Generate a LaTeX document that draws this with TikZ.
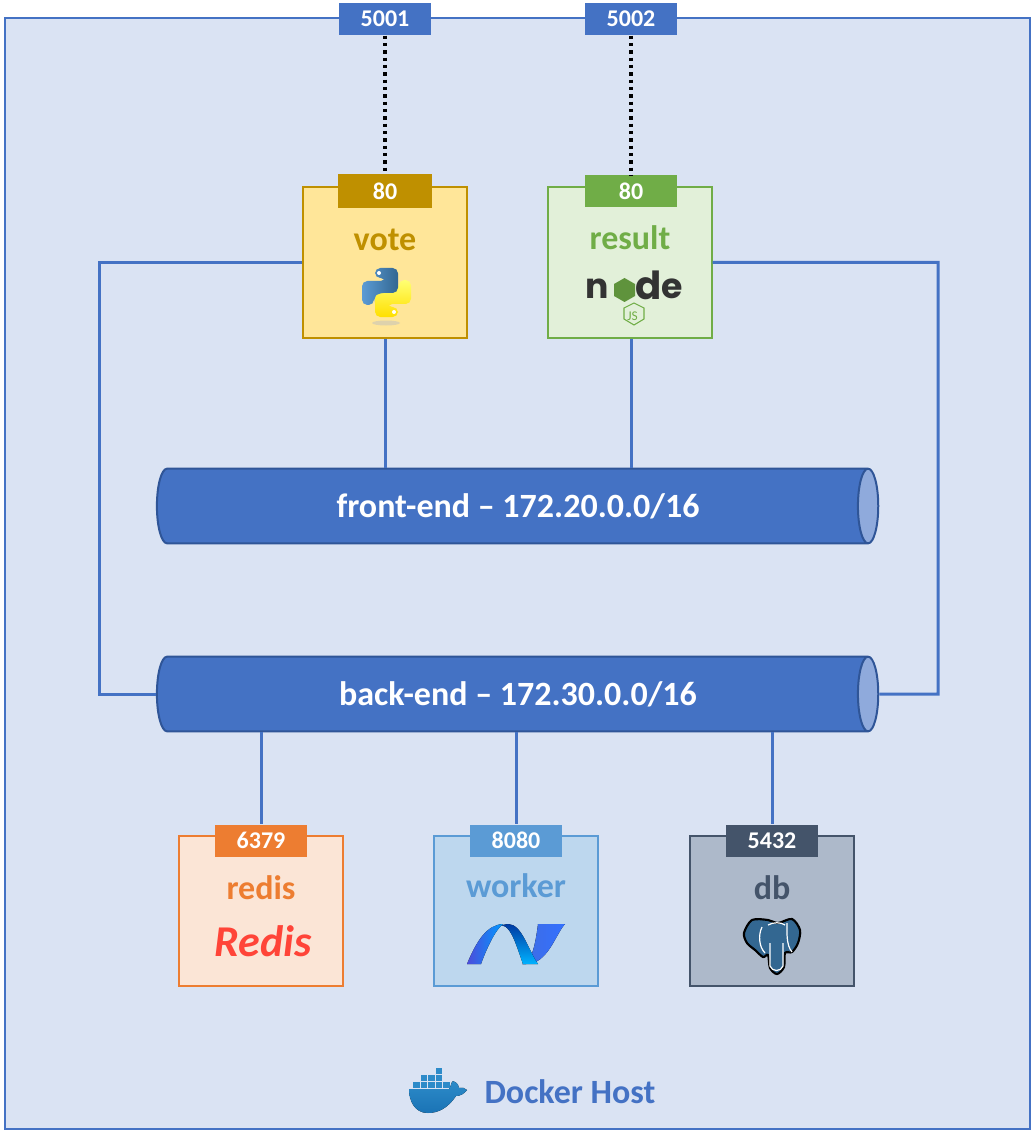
\documentclass[tikz,border=0pt]{standalone}
\usepackage{fontspec}
\setmainfont{Carlito}
\newfontfamily\logofont{Poppins}
\usetikzlibrary{shapes.geometric}
\definecolor{hostfill}{HTML}{DAE3F3}
\definecolor{hostblue}{HTML}{4472C4}
\definecolor{netline}{HTML}{2F5597}
\definecolor{netcap}{HTML}{8FAADC}
\definecolor{votefill}{HTML}{FFE699}
\definecolor{votegold}{HTML}{BF9000}
\definecolor{resultfill}{HTML}{E2F0D9}
\definecolor{resultgreen}{HTML}{70AD47}
\definecolor{redisfill}{HTML}{FBE5D6}
\definecolor{redisorange}{HTML}{ED7D31}
\definecolor{workerfill}{HTML}{BDD7EE}
\definecolor{workerblue}{HTML}{5B9BD5}
\definecolor{dbfill}{HTML}{ADB9CA}
\definecolor{dbslate}{HTML}{44546A}
\definecolor{logodark}{HTML}{333333}
\definecolor{redisred}{HTML}{FF4438}
\definecolor{pgblue}{HTML}{336791}
\definecolor{dockerblue}{HTML}{2D8BC9}
\definecolor{dockerdeep}{HTML}{1A73B5}
\tikzset{
  servicebox/.style 2 args={draw=#2,fill=#1,line width=1.5pt,minimum width=122.5pt,minimum height=112.5pt,inner sep=0pt},
  portbox/.style={fill=#1,text=white,font=\bfseries\fontsize{18}{18}\selectfont,minimum width=69pt,minimum height=24pt,inner sep=0pt},
  publishbox/.style={portbox=hostblue,minimum height=24.5pt},
  servicename/.style={text=#1,font=\bfseries\fontsize{25.5}{25.5}\selectfont,inner sep=0pt},
  logoletter/.style={text=logodark,font=\logofont\bfseries\fontsize{26}{26}\selectfont,inner sep=0pt},
  netbar/.style={cylinder,draw=netline,line width=1.5pt,cylinder uses custom fill,cylinder body fill=hostblue,cylinder end fill=netcap,shape aspect=0.8,minimum width=56pt,minimum height=541pt,inner sep=0pt,text=white,font=\bfseries\fontsize{25.5}{25.5}\selectfont},
  netlink/.style={draw=hostblue,line width=2.25pt},
  publishlink/.style={draw=black,line width=2.4pt,dash pattern=on 2.6pt off 2.9pt}
}
\begin{document}
\begin{tikzpicture}[x=0.75pt,y=0.75pt,yscale=-1,xscale=1]
    \useasboundingbox (0,0) rectangle (1034,1130);
    % host
    \draw [draw=hostblue,fill=hostfill,line width=1.5pt] (5,18) rectangle (1030,1129);
    % services
    \node [servicebox={votefill}{votegold}] (vote) at (385,262.5) {};
    \node [servicebox={resultfill}{resultgreen}] (result) at (630,262.5) {};
    \node [servicebox={redisfill}{redisorange}] (redis) at (261,910.5) {};
    \node [servicebox={workerfill}{workerblue}] (worker) at (516,910.5) {};
    \node [servicebox={dbfill}{dbslate}] (db) at (772,910.5) {};
    % networks
    \node [netbar] (frontend) at (512,506) {\hspace*{9pt}front-end -- 172.20.0.0/16};
    \node [netbar] (backend) at (512,694) {\hspace*{9pt}back-end -- 172.30.0.0/16};
    % ports
    \node [publishbox] (pubvote) at (385,19) {5001};
    \node [publishbox] (pubresult) at (631,19) {5002};
    \node [portbox=votegold,minimum width=70.5pt,minimum height=25.5pt] (portvote) at (385,191.5) {80};
    \node [portbox=resultgreen] (portresult) at (631,191.5) {80};
    \node [portbox=redisorange] (portredis) at (261,840.5) {6379};
    \node [portbox=workerblue] (portworker) at (516,840.5) {8080};
    \node [portbox=dbslate] (portdb) at (772,840.5) {5432};
    % names
    \node [servicename=votegold] (votename) at (385,240) {vote};
    \node [servicename=resultgreen] (resultname) at (630,238) {result};
    \node [servicename=redisorange] (redisname) at (261,888) {redis};
    \node [servicename=workerblue] (workername) at (516,886) {worker};
    \node [servicename=dbslate] (dbname) at (772,888) {db};
    \node [text=hostblue,font=\bfseries\fontsize{25.5}{25.5}\selectfont,inner sep=0pt] (hostname) at (570,1092) {Docker Host};
    % connectors
    \coordinate (backleft) at (99,694);
    \coordinate (backright) at (938,694);
    \draw [publishlink] (pubvote.south) -- (portvote.north);
    \draw [publishlink] (pubresult.south) -- (portresult.north);
    \draw [netlink] (vote.south) -- (vote.south |- frontend.north);
    \draw [netlink] (portresult |- result.south) -- (portresult |- frontend.north);
    \draw [netlink] (vote.west) -| (backleft) -- (backend.west);
    \draw [netlink] (result.east) -| (backright) -- (backend.east);
    \draw [netlink] (redis.north |- backend.south) -- (portredis.north);
    \draw [netlink] (worker.north |- backend.south) -- (portworker.north);
    \draw [netlink] (db.north |- backend.south) -- (portdb.north);
    % python
    \fill [black!25,opacity=0.5] (386,323) ellipse (14 and 2.5);
    \draw [rounded corners=4,draw=none,top color=yellow!55!white,bottom color=yellow!75!orange] (398,317) -- (375,317) -- (375,292) -- (395,292) -- (399,288) -- (399,280) -- (411,280) -- (411,304) -- (387,304) -- (387,307) -- (398,307) -- cycle;
    \draw [rounded corners=4,draw=none,left color=workerblue,right color=pgblue] (375,268) -- (398,268) -- (398,293) -- (378,293) -- (374,297) -- (374,305) -- (362,305) -- (362,281) -- (386,281) -- (386,278) -- (375,278) -- cycle;
    \fill [white] (379,273) circle (2) (394,312) circle (2);
    % node
    \node [logoletter] (noden) at (597,288.5) {n};
    \node [logoletter,font=\logofont\bfseries\fontsize{29}{29}\selectfont] (noded) at (648.5,285.5) {d};
    \node [logoletter] (nodee) at (672.5,289) {e};
    \fill [resultgreen!85!black] (624.5,278) -- (635,284) -- (635,296) -- (624.5,302) -- (614,296) -- (614,284) -- cycle;
    \draw [resultgreen,line width=0.8pt] (634,303) -- (644,308) -- (644,319) -- (634,325) -- (624,319) -- (624,308) -- cycle;
    \node [text=resultgreen,font=\fontsize{10}{10}\selectfont,inner sep=0pt] (nodejs) at (632.5,316) {JS};
    % redis
    \node [text=redisred,font=\bfseries\itshape\fontsize{33}{33}\selectfont,inner sep=0pt] (redislogo) at (263,941) {Redis};
    % dotnet
    \fill [left color=workerblue!70!blue,right color=cyan!30!blue!80] (522,964) .. controls (532,965) and (536,940) .. (538,924) -- (565,924) .. controls (555,935) and (548,964) .. (526,964) -- cycle;
    \fill [top color=blue!70!cyan!60!black,bottom color=cyan!70!blue] (497,926) .. controls (510,920) and (516,945) .. (523,964) -- (538,964) .. controls (528,950) and (522,924) .. (508,924) -- cycle;
    \fill [left color=blue!80!black!70,right color=cyan!60!blue] (467,964) .. controls (477,940) and (487,925) .. (503,924) .. controls (495,930) and (486,950) .. (481,964) -- cycle;
    % postgres
    \draw [black,fill=pgblue,line width=1.6pt] plot [smooth cycle] coordinates {(744,933) (752,920) (768,920) (778,923) (792,919) (800,930) (798,943) (792,952) (785,953) (784,967) (777,974) (770,968) (768,955) (763,957) (755,950) (747,943)};
    \draw [white,line width=0.9pt] (762,927) .. controls (758,935) and (759,947) .. (765,953) (787,923) .. controls (787,932) and (786,945) .. (792,952) (770,943) -- (770,966) .. controls (772,972) and (781,972) .. (783,966) -- (783,943) (768,925) .. controls (773,922) and (781,922) .. (785,925);
    % docker
    \fill [top color=dockerblue,bottom color=dockerdeep] (409,1089) -- (449,1089) .. controls (451,1087) and (451,1082) .. (453,1081) .. controls (458,1083) and (459,1086) .. (459,1088) .. controls (462,1087) and (465,1088) .. (467,1090) .. controls (464,1094) and (460,1096) .. (456,1096) .. controls (448,1108) and (438,1113) .. (428,1113) .. controls (414,1113) and (409,1100) .. (409,1089) -- cycle;
    \foreach \px in {413,420.5,428,435.5,443} \fill [dockerblue] (\px,1081.5) rectangle +(6.5,6.5);
    \foreach \px in {420.5,428,435.5} \fill [dockerblue] (\px,1074.5) rectangle +(6.5,6);
    \fill [dockerblue] (435.5,1067.5) rectangle +(6.5,6);
\end{tikzpicture}
\end{document}
